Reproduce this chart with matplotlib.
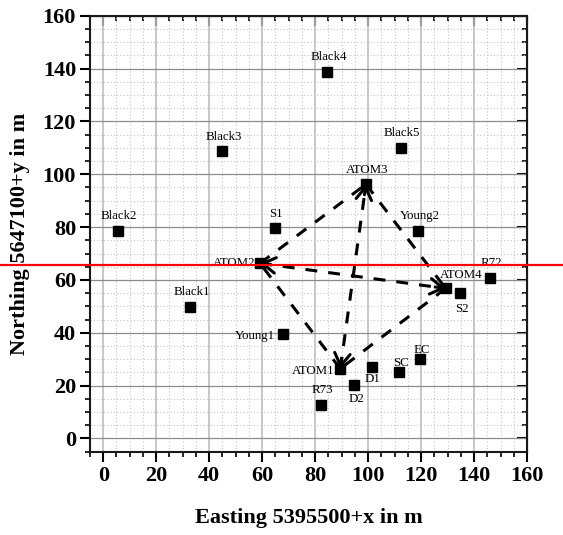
import numpy as np
import matplotlib
matplotlib.use("Agg")
import matplotlib.pyplot as plt
from matplotlib.ticker import MultipleLocator
from matplotlib.transforms import blended_transform_factory

plt.rcParams['font.family'] = ['Liberation Serif', 'DejaVu Serif']

# station positions, local coordinates (m)
names = ["Black1", "Black2", "Black3", "Black4", "Black5",
         "S1", "S2", "Young1", "Young2", "R72", "R73",
         "D1", "D2", "SC", "EC",
         "ATOM1", "ATOM2", "ATOM3", "ATOM4"]
east = [32.9, 5.4, 44.9, 84.5, 112.3,
        64.8, 134.7, 68.0, 119.0, 145.9, 82.3,
        101.3, 94.8, 111.7, 119.7,
        89.5, 59.2, 99.2, 129.3]
north = [49.8, 78.6, 108.7, 138.7, 110.0,
         79.5, 54.9, 39.5, 78.5, 60.8, 12.8,
         26.9, 20.2, 25.0, 30.0,
         26.4, 66.3, 96.2, 56.8]

# sound paths between the tomography stations
paths = [("ATOM2", "ATOM3"), ("ATOM3", "ATOM4"), ("ATOM4", "ATOM1"),
         ("ATOM1", "ATOM2"), ("ATOM1", "ATOM3"), ("ATOM2", "ATOM4")]
# arrow heads: (from, to)
heads = [("ATOM1", "ATOM3"), ("ATOM3", "ATOM1"),
         ("ATOM4", "ATOM2"), ("ATOM2", "ATOM4")]

ref_line = 65.6

# label placement (offset in points, alignment)
lab_pos = {
    "ATOM2": (-3.6, 0.0, 'right'),
    "Young1": (-5.8, -1.4, 'right'),
    "ATOM1": (-4.3, -1.7, 'right'),
    "ATOM4": (11.5, 9.6, 'center'),
    "S2": (1.0, -11.2, 'center'),
    "D1": (1.0, -8.6, 'center'),
    "D2": (1.5, -10.0, 'center'),
    "EC": (1.4, 6.8, 'center'),
    "SC": (1.0, 7.0, 'center'),
}

pos = {n: (x, y) for n, x, y in zip(names, east, north)}

fig = plt.figure(figsize=(5.63, 5.35), dpi=100)
ax = fig.add_axes([90/563, 1-451.7/535, 437/563, 436/535])

ax.set_xlim(-5, 160)
ax.set_ylim(-5, 160)
ax.xaxis.set_major_locator(MultipleLocator(20))
ax.xaxis.set_minor_locator(MultipleLocator(5))
ax.yaxis.set_major_locator(MultipleLocator(20))
ax.yaxis.set_minor_locator(MultipleLocator(5))

ax.set_axisbelow(True)
ax.grid(which='major', axis='x', color='#bdbdbd', lw=1.2)
ax.grid(which='major', axis='y', color='#8c8c8c', lw=0.9)
ax.grid(which='minor', color='#c4c4c4', ls=(0, (1, 2)), lw=0.8)

for a, b in paths:
    ax.plot([pos[a][0], pos[b][0]], [pos[a][1], pos[b][1]],
            color='black', lw=2.2, ls=(0, (3.9, 3.6)), zorder=3)

for a, b in heads:
    p0 = np.array(pos[a])
    p1 = np.array(pos[b])
    u = (p1 - p0)/np.hypot(*(p1 - p0))
    ax.annotate("", xy=p1, xytext=p1 - 4*u,
                arrowprops=dict(arrowstyle="->,head_length=0.45,head_width=0.28",
                                lw=2.2, color='black', shrinkA=0, shrinkB=0,
                                mutation_scale=20),
                zorder=3)

ax.plot(east, north, 's', color='black', ms=6.5, zorder=4)

for n, x, y in zip(names, east, north):
    dx, dy, ha = lab_pos.get(n, (1.0, 10.6, 'center'))
    ax.annotate(n, (x, y), xytext=(dx, dy), textcoords='offset points',
                ha=ha, va='center', fontsize=9.3, zorder=5)

# reference level across the whole figure
tr = blended_transform_factory(fig.transFigure, ax.transData)
ax.plot([0, 1], [ref_line, ref_line], color='red', lw=1.6,
        transform=tr, clip_on=False, zorder=6)

for s in ax.spines.values():
    s.set_linewidth(1.5)
    s.set_color('#1a1a1a')

ax.tick_params(which='major', direction='out', length=7, width=1.5,
               labelsize=16, pad=3)
ax.tick_params(which='minor', direction='out', length=3.5, width=1.2)
for lab in ax.get_xticklabels() + ax.get_yticklabels():
    lab.set_fontweight('bold')

top = ax.secondary_xaxis('top')
right = ax.secondary_yaxis('right')
for sec, axis in ((top, top.xaxis), (right, right.yaxis)):
    axis.set_major_locator(MultipleLocator(20))
    axis.set_minor_locator(MultipleLocator(5))
    sec.tick_params(which='major', direction='in', length=7, width=1.5)
    sec.tick_params(which='minor', direction='in', length=3.5, width=1.2)
    sec.tick_params(labeltop=False, labelright=False)

ax.set_xlabel("Easting 5395500+x in m", fontsize=16, fontweight='bold',
              labelpad=16)
ax.set_ylabel("Northing 5647100+y in m", fontsize=16, fontweight='bold',
              labelpad=9)

fig.savefig("out.png", dpi=100)
